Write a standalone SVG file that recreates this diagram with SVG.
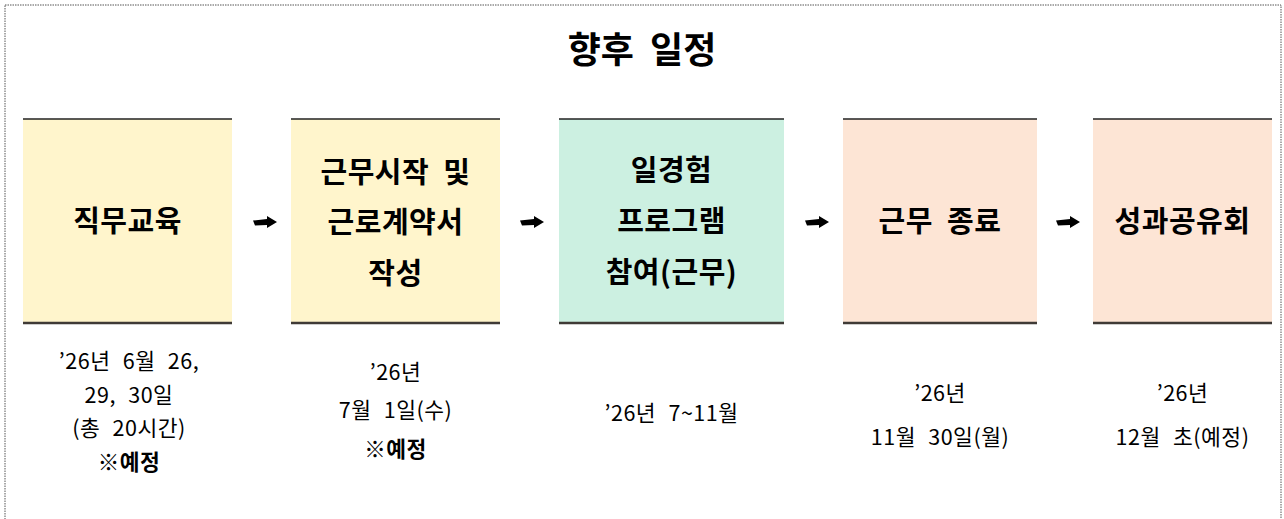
<svg xmlns="http://www.w3.org/2000/svg" width="1284" height="519" viewBox="0 0 1284 519">
<style>
text { font-family: "Noto Sans CJK KR", "Noto Sans", sans-serif; text-anchor: middle; fill: #000; }
.title { font-size: 36px; font-weight: bold; word-spacing: 8px; }
.lbl { font-size: 29px; font-weight: bold; letter-spacing: 0.5px; word-spacing: 7px; }
.sub { font-size: 21.5px; letter-spacing: 0.5px; word-spacing: 7px; }
.b { font-weight: bold; }
.top { stroke: #222; stroke-width: 1.5; }
.bot { stroke: #3f3a36; stroke-width: 2.5; }
.yel { fill: #FFF5CC; }
.grn { fill: #CCF0E1; }
.pch { fill: #FDE5D5; }
.arr { fill: #000; }
</style>
<rect x="5" y="5" width="1276" height="530" fill="#fff" stroke="#555" stroke-width="1" stroke-dasharray="1.5 1"/>
<text class="title" x="642" y="63">향후 일정</text>

<g id="node1">
<rect class="yel" x="23" y="119" width="209" height="203"/>
<line class="top" x1="23" y1="119" x2="232" y2="119"/>
<line class="bot" x1="23" y1="323" x2="232" y2="323"/>
<text class="lbl" x="127.5" y="232">직무교육</text>
<text class="sub" x="129" y="369">’26년 6월 26,</text>
<text class="sub" x="129" y="403">29, 30일</text>
<text class="sub" x="129" y="436">(총 20시간)</text>
<text class="sub b" x="129" y="470">※예정</text>
</g>

<g id="node2">
<rect class="yel" x="291" y="119" width="209" height="203"/>
<line class="top" x1="291" y1="119" x2="500" y2="119"/>
<line class="bot" x1="291" y1="323" x2="500" y2="323"/>
<text class="lbl" x="395.5" y="183">근무시작 및</text>
<text class="lbl" x="395.5" y="233">근로계약서</text>
<text class="lbl" x="395.5" y="284">작성</text>
<text class="sub" x="395.5" y="380">’26년</text>
<text class="sub" x="395.5" y="418">7월 1일(수)</text>
<text class="sub b" x="395.5" y="457">※예정</text>
</g>

<g id="node3">
<rect class="grn" x="559" y="119" width="225" height="203"/>
<line class="top" x1="559" y1="119" x2="784" y2="119"/>
<line class="bot" x1="559" y1="323" x2="784" y2="323"/>
<text class="lbl" x="671.5" y="181">일경험</text>
<text class="lbl" x="671.5" y="232">프로그램</text>
<text class="lbl" x="671.5" y="283">참여(근무)</text>
<text class="sub" x="671.5" y="421">’26년 7~11월</text>
</g>

<g id="node4">
<rect class="pch" x="843" y="119" width="194" height="203"/>
<line class="top" x1="843" y1="119" x2="1037" y2="119"/>
<line class="bot" x1="843" y1="323" x2="1037" y2="323"/>
<text class="lbl" x="940" y="232">근무 종료</text>
<text class="sub" x="940" y="401">’26년</text>
<text class="sub" x="940" y="445">11월 30일(월)</text>
</g>

<g id="node5">
<rect class="pch" x="1093" y="119" width="179" height="203"/>
<line class="top" x1="1093" y1="119" x2="1272" y2="119"/>
<line class="bot" x1="1093" y1="323" x2="1272" y2="323"/>
<text class="lbl" x="1182.5" y="232">성과공유회</text>
<text class="sub" x="1182.5" y="401">’26년</text>
<text class="sub" x="1182.5" y="445">12월 초(예정)</text>
</g>

<g id="connectors">
<defs>
<path id="ar" d="M-12,-1.5 L2,-3 L2,-6 L12,0 L2,6 L2,3 L-10,3.5 Z"/>
</defs>
<use href="#ar" class="arr" x="265" y="222"/>
<use href="#ar" class="arr" x="532" y="222"/>
<use href="#ar" class="arr" x="817" y="222"/>
<use href="#ar" class="arr" x="1068" y="222"/>
</g>
</svg>
